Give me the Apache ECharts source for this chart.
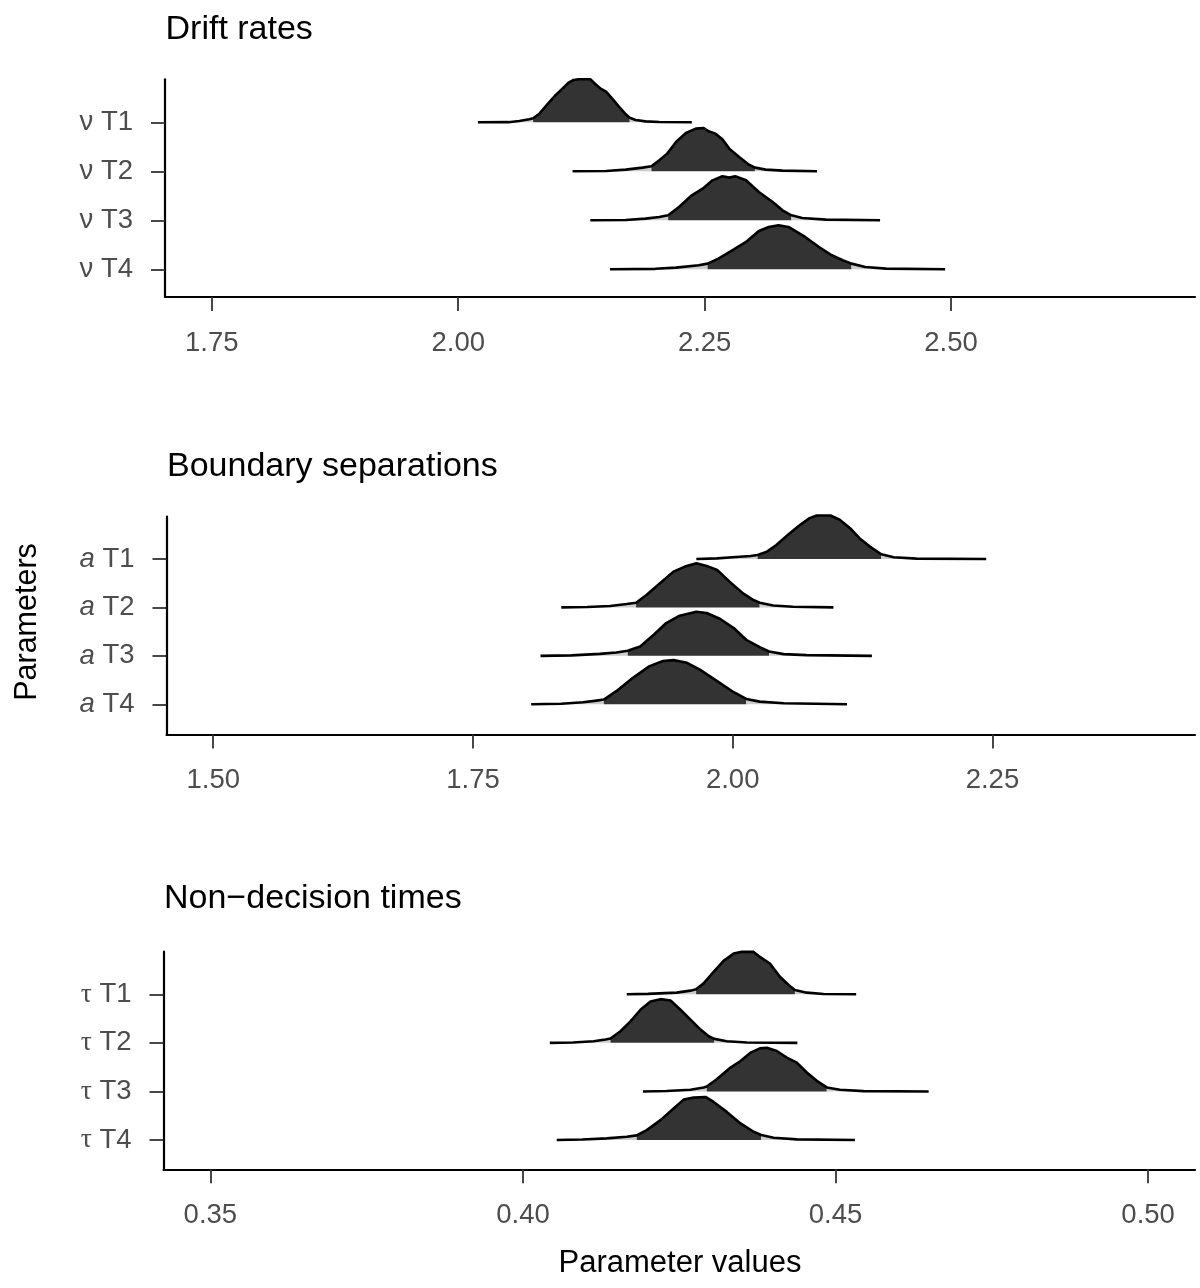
<!DOCTYPE html>
<html>
<head>
<meta charset="utf-8">
<script src="https://cdn.jsdelivr.net/npm/echarts@6/dist/echarts.min.js"></script>
<style>html,body{margin:0;padding:0;background:#fff}#chart{width:1200px;height:1288px}</style>
</head>
<body>
<div id="chart"></div>
<script>
// ---------------- DATA ----------------
const panelTitles = ['Drift rates', 'Boundary separations', 'Non\u2212decision times'];
const xAxisTitle = 'Parameter values';
const yAxisTitle = 'Parameters';

// Panel 1: drift rates  (ridge points: [value, ridge height in row units])
const driftLabels = ['\u03bd T1', '\u03bd T2', '\u03bd T3', '\u03bd T4'];
const driftTicks = [1.75, 2.00, 2.25, 2.50];
const driftT1 = [[2.020,0],[2.051,0.003],[2.062,0.027],[2.072,0.061],[2.076,0.082],[2.082,0.170],[2.090,0.354],[2.099,0.558],[2.106,0.694],[2.112,0.810],[2.117,0.864],[2.122,0.878],[2.134,0.878],[2.139,0.782],[2.144,0.694],[2.150,0.626],[2.156,0.490],[2.163,0.320],[2.170,0.163],[2.174,0.095],[2.180,0.048],[2.190,0.020],[2.204,0.007],[2.237,0]];
const driftT2 = [[2.116,0],[2.150,0.008],[2.170,0.034],[2.187,0.075],[2.196,0.102],[2.204,0.224],[2.212,0.361],[2.221,0.599],[2.231,0.782],[2.241,0.871],[2.249,0.884],[2.254,0.816],[2.261,0.769],[2.268,0.653],[2.275,0.463],[2.285,0.293],[2.295,0.136],[2.301,0.075],[2.312,0.034],[2.329,0.014],[2.364,0]];
const driftT3 = [[2.134,0],[2.170,0.007],[2.190,0.034],[2.204,0.068],[2.213,0.102],[2.224,0.272],[2.237,0.510],[2.248,0.646],[2.258,0.816],[2.268,0.898],[2.275,0.871],[2.281,0.898],[2.292,0.816],[2.305,0.578],[2.319,0.374],[2.329,0.204],[2.338,0.102],[2.349,0.048],[2.373,0.014],[2.428,0]];
const driftT4 = [[2.154,0],[2.200,0.010],[2.221,0.034],[2.244,0.082],[2.253,0.116],[2.264,0.218],[2.278,0.388],[2.292,0.558],[2.305,0.782],[2.315,0.864],[2.325,0.898],[2.335,0.864],[2.352,0.660],[2.366,0.456],[2.379,0.286],[2.390,0.184],[2.399,0.116],[2.413,0.048],[2.434,0.014],[2.494,0]];
const driftIntervals = [[2.076,2.174],[2.196,2.301],[2.213,2.338],[2.253,2.399]];

// Panel 2: boundary separations
const bsLabels = ['a T1', 'a T2', 'a T3', 'a T4'];
const bsTicks = [1.50, 1.75, 2.00, 2.25];
const bsT1 = [[1.965,0],[1.985,0.012],[2.000,0.035],[2.017,0.062],[2.024,0.083],[2.033,0.152],[2.042,0.290],[2.055,0.532],[2.065,0.705],[2.074,0.843],[2.081,0.898],[2.094,0.898],[2.103,0.809],[2.113,0.636],[2.122,0.429],[2.132,0.256],[2.143,0.097],[2.155,0.035],[2.177,0.007],[2.244,0]];
const bsT2 = [[1.835,0],[1.860,0.008],[1.882,0.028],[1.898,0.069],[1.907,0.097],[1.917,0.256],[1.930,0.498],[1.943,0.739],[1.954,0.843],[1.965,0.912],[1.975,0.857],[1.985,0.774],[1.997,0.532],[2.010,0.290],[2.020,0.152],[2.026,0.097],[2.039,0.041],[2.058,0.014],[2.097,0]];
const bsT3 = [[1.815,0],[1.845,0.010],[1.872,0.041],[1.888,0.069],[1.899,0.104],[1.911,0.194],[1.924,0.435],[1.936,0.677],[1.949,0.829],[1.965,0.912],[1.975,0.885],[1.988,0.760],[2.001,0.574],[2.013,0.332],[2.026,0.180],[2.035,0.090],[2.049,0.035],[2.071,0.014],[2.134,0]];
const bsT4 = [[1.806,0],[1.835,0.012],[1.856,0.041],[1.869,0.076],[1.876,0.097],[1.888,0.270],[1.904,0.546],[1.920,0.788],[1.933,0.892],[1.943,0.912],[1.956,0.857],[1.968,0.719],[1.985,0.477],[2.001,0.249],[2.013,0.111],[2.026,0.055],[2.049,0.021],[2.110,0]];
const bsIntervals = [[2.024,2.143],[1.907,2.026],[1.899,2.035],[1.876,2.013]];

// Panel 3: non-decision times
const ndtLabels = ['\u03c4 T1', '\u03c4 T2', '\u03c4 T3', '\u03c4 T4'];
const ndtTicks = [0.35, 0.40, 0.45, 0.50];
const ndtT1 = [[0.4166,0],[0.4200,0.008],[0.4246,0.034],[0.4268,0.075],[0.4277,0.102],[0.4289,0.225],[0.4305,0.464],[0.4321,0.688],[0.4337,0.838],[0.4350,0.873],[0.4369,0.873],[0.4379,0.770],[0.4395,0.634],[0.4411,0.361],[0.4425,0.191],[0.4435,0.089],[0.4454,0.034],[0.4481,0.007],[0.4533,0]];
const ndtT2 = [[0.4043,0],[0.4080,0.008],[0.4113,0.034],[0.4132,0.068],[0.4140,0.089],[0.4156,0.239],[0.4172,0.443],[0.4188,0.682],[0.4204,0.852],[0.4220,0.900],[0.4236,0.873],[0.4252,0.682],[0.4268,0.477],[0.4284,0.273],[0.4297,0.136],[0.4306,0.082],[0.4326,0.034],[0.4358,0.007],[0.4439,0]];
const ndtT3 = [[0.4192,0],[0.4230,0.008],[0.4268,0.034],[0.4289,0.082],[0.4294,0.102],[0.4310,0.252],[0.4332,0.491],[0.4348,0.627],[0.4364,0.798],[0.4379,0.886],[0.4390,0.900],[0.4406,0.832],[0.4422,0.695],[0.4438,0.593],[0.4454,0.389],[0.4470,0.218],[0.4486,0.082],[0.4507,0.034],[0.4545,0.007],[0.4649,0]];
const ndtT4 = [[0.4054,0],[0.4095,0.010],[0.4134,0.034],[0.4166,0.068],[0.4182,0.095],[0.4198,0.204],[0.4220,0.409],[0.4241,0.648],[0.4257,0.832],[0.4273,0.873],[0.4292,0.886],[0.4305,0.784],[0.4326,0.579],[0.4348,0.341],[0.4369,0.170],[0.4381,0.102],[0.4401,0.048],[0.4438,0.014],[0.4531,0]];
const ndtIntervals = [[0.4277,0.4435],[0.4140,0.4306],[0.4294,0.4486],[0.4182,0.4381]];

// ---------------- LAYOUT / STYLE ----------------
const FONT = '"Liberation Sans", Arial, Helvetica, sans-serif';
const SERIF = '"Liberation Serif", "DejaVu Serif", serif';
const DARK = '#333333', LIGHT = '#cccccc';
const TICK_FS = 27.5;
const layout = [
  { left: 165,   top: 79.3,  width: 1030,   height: 217.7, xmin: 1.7025, xmax: 2.7475, ymin: 0.435, ymax: 4.878, titleY: 30 },
  { left: 166.5, top: 516.7, width: 1028.5, height: 217.8, xmin: 1.455,  xmax: 2.445,  ymin: 0.376, ymax: 4.873, titleY: 467 },
  { left: 163.5, top: 951.7, width: 1031.5, height: 217.6, xmin: 0.3425, xmax: 0.5075, ymin: 0.397, ymax: 4.877, titleY: 899 }
];
const panels = [
  { labels: driftLabels, ticks: driftTicks, ridges: [driftT1, driftT2, driftT3, driftT4], intervals: driftIntervals, sym: 'nu' },
  { labels: bsLabels,    ticks: bsTicks,    ridges: [bsT1, bsT2, bsT3, bsT4],             intervals: bsIntervals,    sym: 'it' },
  { labels: ndtLabels,   ticks: ndtTicks,   ridges: [ndtT1, ndtT2, ndtT3, ndtT4],         intervals: ndtIntervals,   sym: 'tau' }
];

function makeRender(iv) {
  return function (params, api) {
    if (params.dataIndexInside !== 0) return null;
    const n = params.dataInsideLength;
    const pts = [];
    for (let i = 0; i < n; i++) pts.push([api.value(0, i), api.value(1, i), api.value(2, i)]);
    const base = pts[0][2];
    const px = pts.map(p => api.coord([p[0], p[1]]));
    const by = api.coord([pts[0][0], base])[1];
    const poly = (a, b, color) => {
      const s = [];
      pts.forEach((p, i) => { if (p[0] >= a - 1e-9 && p[0] <= b + 1e-9) s.push(px[i]); });
      if (s.length < 2) return null;
      return { type: 'polygon', silent: true,
        shape: { points: [[s[0][0], by]].concat(s, [[s[s.length - 1][0], by]]) },
        style: { fill: color, stroke: null } };
    };
    const children = [
      poly(-Infinity, iv[0], LIGHT),
      poly(iv[0], iv[1], DARK),
      poly(iv[1], Infinity, LIGHT),
      { type: 'polyline', silent: true, shape: { points: px },
        style: { stroke: '#000', lineWidth: 2.6, fill: null, lineJoin: 'round', lineCap: 'butt' } }
    ].filter(Boolean);
    return { type: 'group', children };
  };
}

const grid = [], xAxis = [], yAxis = [], series = [], graphic = [];
panels.forEach((P, p) => {
  const L = layout[p];
  grid.push({ left: L.left, top: L.top, width: L.width, height: L.height, containLabel: false });
  xAxis.push({
    type: 'value', gridIndex: p, min: L.xmin, max: L.xmax,
    splitLine: { show: false },
    axisLine: { show: true, onZero: false, lineStyle: { color: '#000', width: 2.2 } },
    axisTick: { show: true, length: 14, customValues: P.ticks, lineStyle: { color: '#333', width: 1.8 } },
    axisLabel: { customValues: P.ticks, formatter: v => v.toFixed(2), fontSize: TICK_FS, color: '#4d4d4d', fontFamily: FONT, margin: 32 }
  });
  const rows = P.labels.map((_, i) => 4 - i);
  yAxis.push({
    type: 'value', gridIndex: p, min: L.ymin, max: L.ymax,
    splitLine: { show: false },
    axisLine: { show: true, onZero: false, lineStyle: { color: '#000', width: 2.2 } },
    axisTick: { show: true, length: 14, customValues: rows, lineStyle: { color: '#333', width: 1.8 } },
    axisLabel: {
      customValues: rows, margin: 32, fontSize: TICK_FS, color: '#4d4d4d', fontFamily: FONT,
      formatter: v => { const s = P.labels[4 - Math.round(v)]; return '{' + P.sym + '|' + s[0] + '}' + s.slice(1); },
      rich: {
        nu: { fontSize: TICK_FS, color: '#4d4d4d', fontFamily: FONT },
        tau: { fontSize: TICK_FS, color: '#4d4d4d', fontFamily: SERIF },
        it: { fontSize: TICK_FS, color: '#4d4d4d', fontFamily: FONT, fontStyle: 'italic' }
      }
    }
  });
  P.ridges.forEach((r, i) => {
    const base = 4 - i;
    series.push({
      type: 'custom', xAxisIndex: p, yAxisIndex: p, silent: true, clip: false, z: 10 + i,
      data: r.map(pt => [pt[0], base + pt[1], base]),
      renderItem: makeRender(P.intervals[i])
    });
  });
  graphic.push({ type: 'text', x: L.left + 0.5, y: L.titleY, silent: true,
    style: { text: panelTitles[p], fontSize: 34, fontFamily: FONT, fill: '#000', align: 'left', verticalAlign: 'middle' } });
});
graphic.push({ type: 'text', x: 28, y: 622, rotation: Math.PI / 2, silent: true,
  style: { text: yAxisTitle, fontSize: 30.5, fontFamily: FONT, fill: '#000', align: 'center', verticalAlign: 'middle' } });
graphic.push({ type: 'text', x: 680, y: 1263, silent: true,
  style: { text: xAxisTitle, fontSize: 31, fontFamily: FONT, fill: '#000', align: 'center', verticalAlign: 'middle' } });

const chart = echarts.init(document.getElementById('chart'), null, { renderer: 'canvas' });
chart.setOption({ animation: false, backgroundColor: '#fff', grid, xAxis, yAxis, series, graphic });
</script>
</body>
</html>
